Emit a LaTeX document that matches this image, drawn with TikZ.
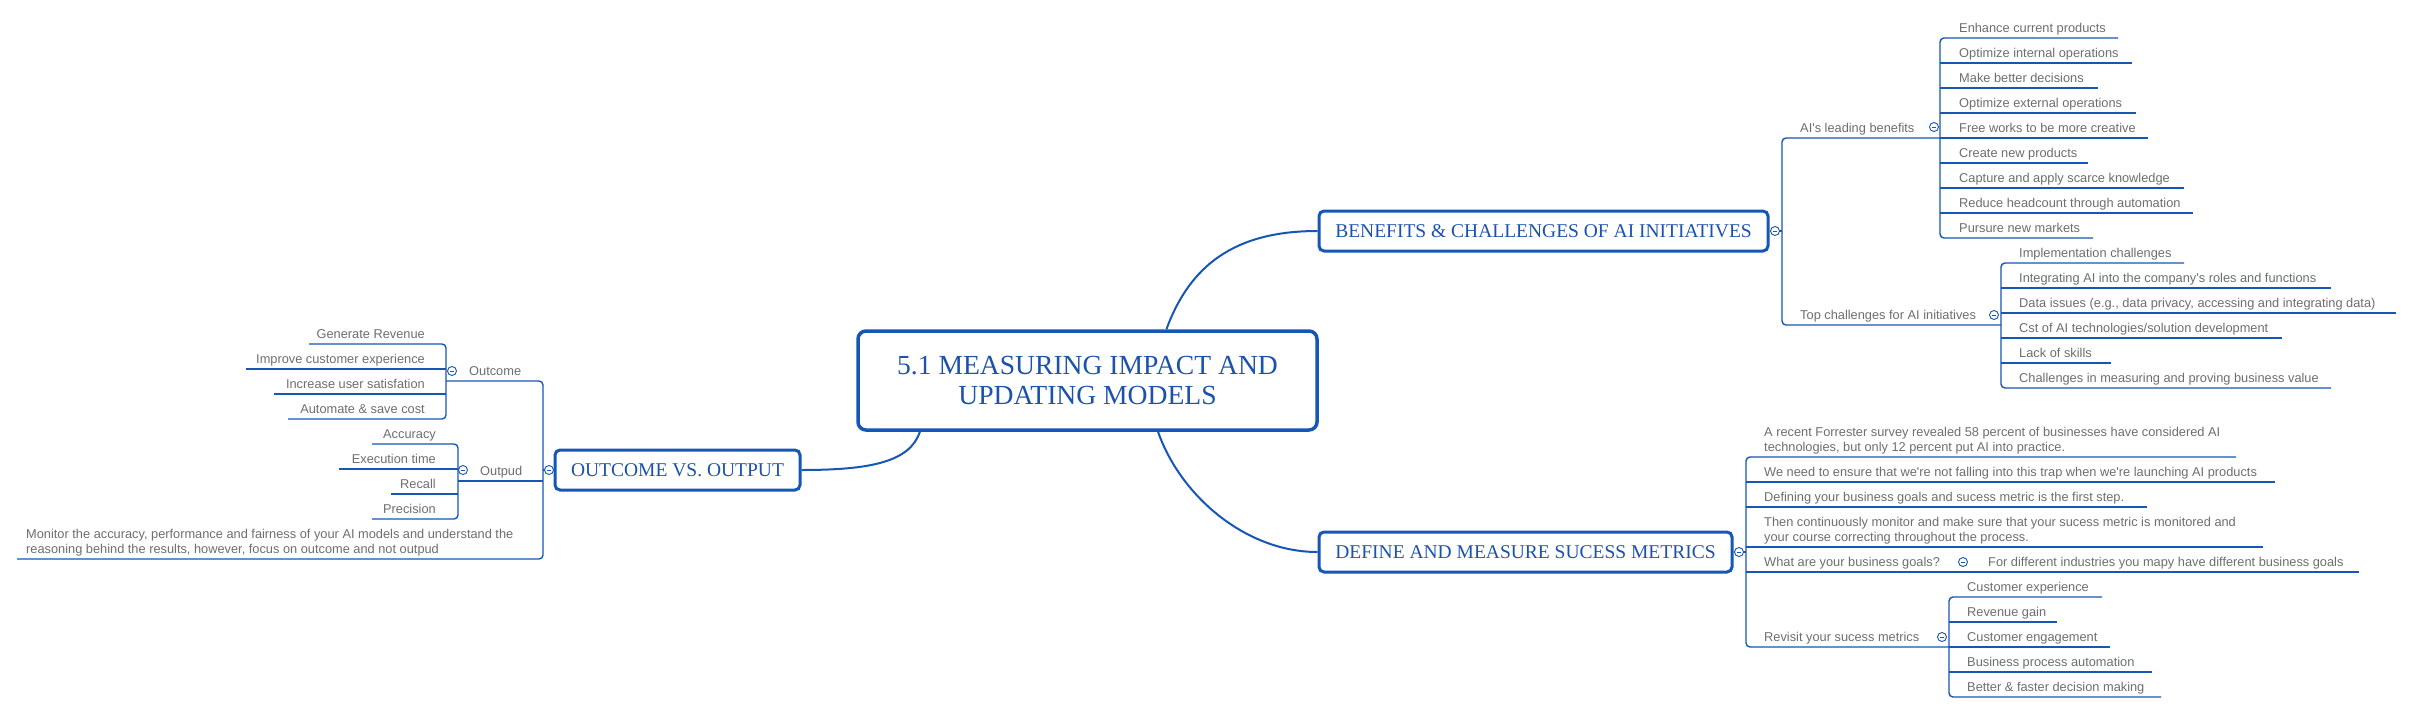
\documentclass[tikz,border=0pt]{standalone}
\usepackage{fontspec}
\setmainfont{Liberation Serif}
\newfontfamily\itemfont{Liberation Sans}
\definecolor{linec}{RGB}{22,86,180}
\definecolor{titlec}{RGB}{28,82,172}
\definecolor{txtc}{RGB}{110,110,110}
\newcommand\RI[5]{\node[itm, anchor=base west] (#1) at (#2,#3-6) {#5}; \coordinate (#1e) at (#4,#3);}
\newcommand\LI[5]{\node[itm, anchor=base east] (#1) at (#2,#3-6) {#5}; \coordinate (#1e) at (#4,#3);}
\begin{document}
\begin{tikzpicture}[x=1pt,y=-1pt,
  ln/.style={draw=linec, line width=1.4pt},
  crv/.style={draw=linec, line width=2pt},
  topic/.style={draw=linec, line width=3pt, rounded corners=5pt, fill=white, text=titlec,
    font=\fontsize{19.5}{22}\selectfont, inner sep=0pt},
  itm/.style={text=txtc, font=\itemfont\fontsize{12.8}{14.6}\selectfont, inner sep=0pt, align=left},
  cmark/.style={circle, draw=linec, fill=white, line width=0.9pt, minimum size=9pt, inner sep=0pt,
    path picture={\draw[linec, line width=0.9pt] ([xshift=-2.4pt]path picture bounding box.center) -- ([xshift=2.4pt]path picture bounding box.center);}}]
\fill[white] (0,0) rectangle (2412,713);
\path[use as bounding box] (0,0) rectangle (2412,713);

% ---------- main topics ----------
\node[topic, line width=3.5pt, rounded corners=8pt, minimum width=459pt, minimum height=99pt,
  font=\fontsize{27.6}{30}\selectfont, align=center] (central) at (1087.5,380.5)
  {5.1 MEASURING IMPACT AND\\UPDATING MODELS};
\node[topic, minimum width=449pt, minimum height=40pt] (ben) at (1543.5,231) {BENEFITS \& CHALLENGES OF AI INITIATIVES};
\node[topic, minimum width=413pt, minimum height=40pt] (def) at (1525.5,552) {DEFINE AND MEASURE SUCESS METRICS};
\node[topic, minimum width=245pt, minimum height=40pt] (out) at (677.5,470) {OUTCOME VS. OUTPUT};

\draw[crv] (central.33) .. controls (1190,265) and (1235,231) .. (ben.west);
\draw[crv] (central.-36.7) .. controls (1180,495) and (1245,552) .. (def.west);
\draw[crv] (central.197.3) .. controls (910,462) and (870,470) .. (out.east);

% ---------- benefits & challenges ----------
\coordinate (benx) at (1782,0);
\draw[ln] (ben.east) -- (ben.east -| benx);
\node[cmark] (benm) at (1775,231) {};

\node[itm, anchor=base west] (lead) at (1800,132) {AI's leading benefits};
\node[cmark] (leadm) at (1934,127) {};
\coordinate (bbx) at (1940,0);
\RI{b1}{1959}{38}{2118}{Enhance current products}
\RI{b2}{1959}{63}{2132}{Optimize internal operations}
\RI{b3}{1959}{88}{2098}{Make better decisions}
\RI{b4}{1959}{113}{2136}{Optimize external operations}
\RI{b5}{1959}{138}{2148}{Free works to be more creative}
\RI{b6}{1959}{163}{2088}{Create new products}
\RI{b7}{1959}{188}{2184}{Capture and apply scarce knowledge}
\RI{b8}{1959}{213}{2193}{Reduce headcount through automation}
\RI{b9}{1959}{238}{2093}{Pursure new markets}
\draw[ln, rounded corners=4pt] (b1e) -- (b1e -| bbx) -- (b9e -| bbx) -- (b9e);
\foreach \k in {2,...,8} \draw[ln] (b\k e -| bbx) -- (b\k e);

\node[itm, anchor=base west] (topc) at (1800,319) {Top challenges for AI initiatives};
\node[cmark] (topm) at (1994,315) {};
\coordinate (chx) at (2001,0);
\RI{c1}{2019}{263}{2184}{Implementation challenges}
\RI{c2}{2019}{288}{2331}{Integrating AI into the company's roles and functions}
\RI{c3}{2019}{313}{2396}{Data issues (e.g., data privacy, accessing and integrating data)}
\RI{c4}{2019}{338}{2282}{Cst of AI technologies/solution development}
\RI{c5}{2019}{363}{2111}{Lack of skills}
\RI{c6}{2019}{388}{2331}{Challenges in measuring and proving business value}
\draw[ln, rounded corners=4pt] (c1e) -- (c1e -| chx) -- (c6e -| chx) -- (c6e);
\foreach \k in {2,...,5} \draw[ln] (c\k e -| chx) -- (c\k e);

\draw[ln, rounded corners=4pt] (b5e -| bbx) -- (1782,138) -- (1782,325) -- (2001,325);

% ---------- define and measure ----------
\coordinate (defx) at (1746,0);
\draw[ln] (def.east) -- (def.east -| defx);
\node[cmark] (defm) at (1739,552) {};
\node[itm, anchor=base west] (d1) at (1764,451) {A recent Forrester survey revealed 58 percent of businesses have considered AI\\technologies, but only 12 percent put AI into practice.};
\coordinate (d1e) at (2236,457);
\RI{d2}{1764}{482}{2275}{We need to ensure that we're not falling into this trap when we're launching AI products}
\RI{d3}{1764}{507}{2147}{Defining your business goals and sucess metric is the first step.}
\node[itm, anchor=base west] (d4) at (1764,541) {Then continuously monitor and make sure that your sucess metric is monitored and\\your course correcting throughout the process.};
\coordinate (d4e) at (2263,547);
\RI{d5}{1764}{572}{2359}{What are your business goals?}
\node[cmark] (d5m) at (1963,562) {};
\node[itm, anchor=base west] (d5b) at (1988,566) {For different industries you mapy have different business goals};
\RI{d6}{1764}{647}{1949}{Revisit your sucess metrics}
\node[cmark] (d6m) at (1942,637) {};
\draw[ln, rounded corners=4pt] (d1e) -- (d1e -| defx) -- (d6e -| defx) -- (d6e);
\foreach \k in {2,...,5} \draw[ln] (d\k e -| defx) -- (d\k e);

\coordinate (rx) at (1949,0);
\RI{r1}{1967}{597}{2102}{Customer experience}
\RI{r2}{1967}{622}{2057}{Revenue gain}
\RI{r3}{1967}{647}{2110}{Customer engagement}
\RI{r4}{1967}{672}{2152}{Business process automation}
\RI{r5}{1967}{697}{2161}{Better \& faster decision making}
\draw[ln, rounded corners=4pt] (r1e) -- (r1e -| rx) -- (r5e -| rx) -- (r5e);
\foreach \k in {2,...,4} \draw[ln] (r\k e -| rx) -- (r\k e);

% ---------- outcome vs output ----------
\coordinate (ox) at (543,0);
\draw[ln] (out.west) -- (out.west -| ox);
\node[cmark] (outm) at (549,470) {};

\node[itm, anchor=base west] (oc) at (469,375) {Outcome};
\node[cmark] (ocm) at (452,371) {};
\coordinate (ocx) at (446,0);
\LI{o1}{425}{344}{309}{Generate Revenue}
\LI{o2}{425}{369}{246}{Improve customer experience}
\LI{o3}{425}{394}{274}{Increase user satisfation}
\LI{o4}{425}{419}{288}{Automate \& save cost}
\draw[ln, rounded corners=4pt] (o1e) -- (o1e -| ocx) -- (o4e -| ocx) -- (o4e);
\foreach \k in {2,3} \draw[ln] (o\k e -| ocx) -- (o\k e);

\node[itm, anchor=base west] (op) at (480,475) {Outpud};
\node[cmark] (opm) at (463,470) {};
\coordinate (opx) at (458,0);
\LI{p1}{436}{444}{372}{Accuracy}
\LI{p2}{436}{469}{339}{Execution time}
\LI{p3}{436}{494}{391}{Recall}
\LI{p4}{436}{519}{372}{Precision}
\draw[ln, rounded corners=4pt] (p1e) -- (p1e -| opx) -- (p4e -| opx) -- (p4e);
\foreach \k in {2,3} \draw[ln] (p\k e -| opx) -- (p\k e);

\node[itm, anchor=base west] (mon) at (26,553) {Monitor the accuracy, performance and fairness of your AI models and understand the\\reasoning behind the results, however, focus on outcome and not outpud};
\coordinate (mone) at (17,559);
\draw[ln, rounded corners=4pt] (446,381) -- (543,381) -- (543,559) -- (mone);
\draw[ln] (458,481) -- (543,481);
\end{tikzpicture}
\end{document}
